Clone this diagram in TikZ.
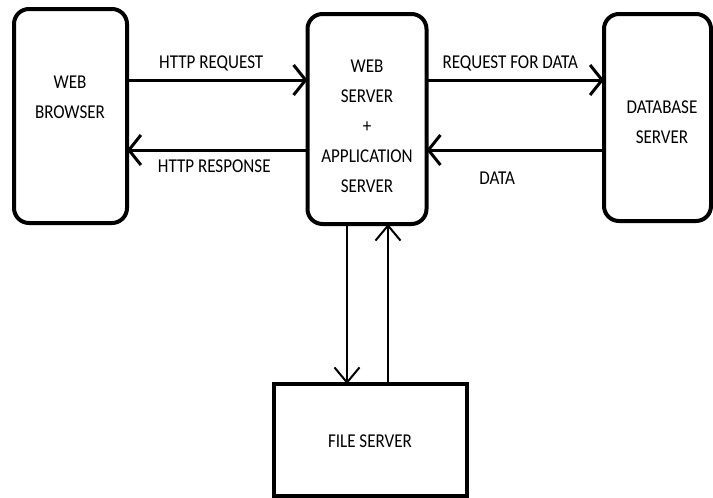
\documentclass[tikz,border=0pt]{standalone}
\usepackage{fontspec}
\setmainfont{Carlito}[FakeStretch=0.87]
\usepackage{tikz}
\usetikzlibrary{arrows.meta, calc}

\begin{document}
\begin{tikzpicture}[x=1pt, y=-1pt,
    box/.style={draw, line width=4pt, rounded corners=15pt, outer sep=0pt, inner sep=0pt},
    plainbox/.style={draw, line width=4.5pt, outer sep=0pt, inner sep=0pt},
    txt/.style={align=center, font=\fontsize{19.6}{30}\selectfont},
    lbl/.style={font=\fontsize{19.6}{30}\selectfont, inner sep=0pt, text height=12.6pt, text depth=0pt},
    flow/.style={line width=3pt, -{Straight Barb[length=12pt, width=30pt]}},
    filelink/.style={line width=2pt, -{Straight Barb[length=15pt, width=25pt]}}]
                \useasboundingbox (0,0) rectangle (713,498);
                \node[box, minimum width=113pt, minimum height=214pt] (browser) at (70.5,116) {};
                \node[box, minimum width=119pt, minimum height=210pt] (appserver) at (367,119) {};
                \node[box, minimum width=107pt, minimum height=207pt] (dbserver) at (657.5,117.5) {};
                \node[plainbox, minimum width=193pt, minimum height=112pt] (fileserver) at (370.5,440) {};
                \node[txt] (browsertxt) at (70,97) {WEB\\BROWSER};
                \node[txt] (appservertxt) at (367,126) {WEB\\SERVER\\+\\APPLICATION\\SERVER};
                \node[txt] (dbservertxt) at (662,122) {DATABASE\\SERVER};
                \node[txt] (fileservertxt) at (370,441) {FILE SERVER};
                % request / response rows
                \coordinate (req) at (0,80);
                \coordinate (resp) at (0,150);
                \draw[flow] (browser.east |- req) -- node[lbl, above=10pt, xshift=-6pt] {HTTP REQUEST} (appserver.west |- req);
                \draw[flow] (appserver.west |- resp) -- node[lbl, below=8.5pt, xshift=-3pt] {HTTP RESPONSE} (browser.east |- resp);
                \draw[flow] (appserver.east |- req) -- node[lbl, above=10pt, xshift=-5pt] {REQUEST FOR DATA} (dbserver.west |- req);
                \draw[flow] (dbserver.west |- resp) -- node[lbl, below=20pt, xshift=-18pt] {DATA} (appserver.east |- resp);
                % links to the file server
                \coordinate (down) at (347,0);
                \coordinate (up) at (388,0);
                \draw[filelink] (appserver.south -| down) -- (fileserver.north -| down);
                \draw[filelink] (fileserver.north -| up) -- (appserver.south -| up);
            \end{tikzpicture}
\end{document}
